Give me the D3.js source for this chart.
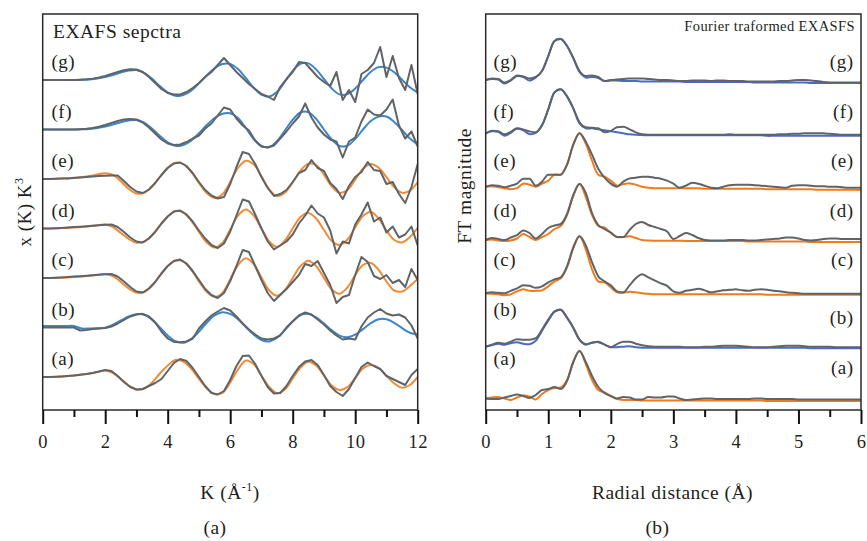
<!DOCTYPE html>
<html>
<head>
<meta charset="utf-8">
<script src="https://d3js.org/d3.v7.min.js"></script>
<style>
  body { margin: 0; background: #fff; }
  text { font-family: "Liberation Serif", "DejaVu Serif", serif; fill: #231f20; letter-spacing: 0.5px; }
</style>
</head>
<body>
<script>
"use strict";

// ---- grids (k in 1/Angstrom, r in Angstrom) ----
var kData = [0,0.2,0.4,0.6,0.8,1,1.2,1.4,1.6,1.8,2,2.2,2.4,2.6,2.8,3,3.2,3.4,3.6,3.8,4,4.2,4.4,4.6,4.8,5,5.2,5.4,5.6,5.8,6,
  6.2,6.4,6.6,6.8,7,7.2,7.4,7.6,7.8,8,8.2,8.4,8.6,8.8,9,9.2,9.4,9.6,9.8,10,10.2,10.4,10.6,10.8,11,11.2,11.4,11.6,11.8,12];
var kFit = [0,0.25,0.5,0.75,1,1.25,1.5,1.75,2,2.25,2.5,2.75,3,3.25,3.5,3.75,4,4.25,4.5,4.75,5,5.25,5.5,5.75,6,
  6.25,6.5,6.75,7,7.25,7.5,7.75,8,8.25,8.5,8.75,9,9.25,9.5,9.75,10,10.25,10.5,10.75,11,11.25,11.5,11.75,12];
var rGrid = [0,0.1,0.2,0.3,0.4,0.5,0.6,0.7,0.8,0.9,1,1.1,1.2,1.3,1.4,1.5,1.6,1.7,1.8,1.9,2,2.1,2.2,2.3,2.4,2.5,2.6,2.7,2.8,2.9,
  3,3.1,3.2,3.3,3.4,3.5,3.6,3.7,3.8,3.9,4,4.1,4.2,4.3,4.4,4.5,4.6,4.7,4.8,4.9,5,5.1,5.2,5.3,5.4,5.5,5.6,5.7,5.8,5.9,6];

var sampleLabels = ["(a)", "(b)", "(c)", "(d)", "(e)", "(f)", "(g)"];
var kTicks = [0, 2, 4, 6, 8, 10, 12];
var kMinor = [1, 3, 5, 7, 9, 11];
var rTicks = [0, 1, 2, 3, 4, 5, 6];
var rMinor = [0.5, 1.5, 2.5, 3.5, 4.5, 5.5];

// ---- EXAFS chi(k)k^3, measured (on kData) ----
var chiA = [0,0,0.3,0.6,1,1.5,2.2,3,4,5.5,7, 6,1,-5,-10,-12.5,-12,-9,-6,-2,6, 14,18,16,9,0,-9,-16,-17.5,-14,-3,
  11,21,21.5,13,1,-10,-16.5,-16,-9,1, 10,15.5,17,12,2,-9,-15,-19,-12,-1, 10,14.5,11,8,1,-2,-5,-8,2,8];
var chiB = [0,0,0,0,0,0,-3,-2.5,-1.5,-1,-0.5, 1,4,7.5,11,13,13.7,11,5,-4,-11, -14.5,-14.7,-14,-11,-1,6,12,16,19.5,17,
  11,4,-2,-7,-11,-12,-11,-8,0,6, 12,15,13,8,3,-3,-8,-12,-11,-12, 1,10,15,18.5,14,12,13,10,2,-11];
var chiC = [0,0,0.3,0.6,1,1.4,1.8,2.3,2.8,3.3,3.8, 4,1.5,-3.5,-9,-13.5,-14.5,-10.5,-4,4.5,12, 17,18.5,14.5,7,-2,-11,-17,-20,-15,-3,
  12,28,26,12,-2,-15,-23,-17,-11,-4, 3,14,12,17,5,-7,-25,-19,-17,3, 21,16,2,-1,3,-5,-2,-9,9,-2];
var chiD = [0,0,0.3,0.6,1,1.4,1.8,2.3,2.8,3.3,3.8, 4,1.5,-3.5,-9,-13,-14,-10,-3.5,5,12, 17,18,14,7,-2,-10,-16.5,-19.5,-15,-3,
  13,29,27,14,0,-13,-21,-17,-13,-6, 5,13,23,15,11,-2,-25,-13,-15,4, 14,26,7,11,-4,2,-9,-6,2,-17];
var chiE = [0,0,0.2,0.4,0.6,1,1.5,2,2.5,3,3.3, 3.6,3.5,-2,-8,-12.5,-14,-10.5,-4,4,11, 15.5,16.5,13,6,-3,-11,-16.5,-19.5,-18,-5,
  12,27,25,15,2,-9,-17,-15,-11,-3, 6,9,19,11,8,-4,-10,-20,-7,2, 7,17,9,8,-5,-3,-15,-24,-8,15];
var chiF = [0,0,0,0,0,0,0.3,0.7,1.5,2.8,4.5, 6.5,8.5,10,10.5,10,7,2,-4,-10,-14, -15.5,-15,-12.5,-9,-6,1,6,14,22,20,
  11,4,-1,-11,-17,-18,-16,-9,-2,6, 13,26,12,2,-5,-10,-12,-28,-12,-8, 8,20,15,14,20,30,4,-9,-2,-17];
var chiG = [0,0,0,0,0,0,0.3,0.7,1.3,2.5,4, 6,8,9.8,10.7,10.5,8,3,-3,-9,-13, -14.5,-14.5,-12,-8,-3,3,8,15,22,15,
  8,2,-4,-9,-14,-16.5,-20,-7,1,8, 18,17,10,3,-2,-6,8,-20,-10,-22, 6,10,17,33,3,24,2,-10,15,-14];

// ---- EXAFS fits (on kFit) ----
var chiAFit = [0,0,0.3,0.8,1.5,2.5,3.6,5,6.5,4,-2,-8.5,-12.5,-11.5,-5.5,3.5,11.5,17,15.5,8.5,-2,-11.5,-17,-16,-5.5,
  7.5,16.5,13,1.5,-10,-16.3,-12.5,-1.5,9.5,15.3,11.5,1.5,-8.5,-13,-10,-1,8.5,12,9,1.5,-6.5,-10.7,-8,0];
var chiBFit = [1.5,1.5,1.5,1.5,1.5,-1,-1,-0.8,-0.2,2.8,7,11,13.3,12.8,7.9,0.1,-8,-13.7,-15.2,-11.6,-4.1,4.8,12.1,15.3,13.6,
  8.2,0.5,-7.1,-12.5,-13.9,-10.2,-2.5,6.2,12.4,13.6,10.2,4,-2.9,-8.1,-9.7,-7.1,-1.6,4.4,8.2,8.2,4.7,-0.6,-5.2,-7];
var chiCFit = [0,0,0.2,0.5,0.9,1.5,2.3,3.2,4,2,-4,-10.5,-14.6,-14,-7.5,2.5,12,17.5,16.5,8.5,-3.5,-14,-19,-15,-1.5,
  13,19.7,14,0.5,-12.5,-17.7,-12,0,12,17.3,12,0,-11.5,-15.8,-9.5,3,13,15,8,-3.5,-12.5,-13.5,-8,-1];
var chiDFit = [0,0,0.2,0.5,0.9,1.5,2.3,3.3,4,1.5,-4.5,-10.5,-14.2,-13,-6.5,3,12,17.5,16,8,-3.5,-14,-19,-14.5,-1,
  13,19,13,0,-13,-18.5,-12,0,11.5,15.5,10,-1.5,-12.5,-16.5,-11,1,12.5,16.5,10,-2,-11.5,-14,-8.5,0.7];
var chiEFit = [0,0,0.3,0.7,1.2,2,3,4.5,5.8,4.2,-2.2,-9.8,-14.5,-13.9,-7.5,2.1,11.2,16.2,14.8,7.1,-4,-14,-18.9,-15.3,-2.9,
  11,18.3,14.7,2.7,-10.4,-16.9,-13.6,-3.4,8.3,15.4,14,4.4,-7.3,-13.8,-11,-0.7,10.3,15,11.2,1.8,-8.3,-13.8,-11.7,-3];
var chiFFit = [0,0,0,0,0,0.2,0.6,1.5,3,5,7.3,9,9.5,6.8,0.8,-6.5,-12.8,-16.2,-15.6,-11.2,-3.8,4.5,11.5,15.8,16.3,
  11.5,1.5,-9.5,-16.5,-17.5,-11.5,-1,9.8,17,17.4,10.6,0,-10,-16.5,-16.2,-9.5,0,8.5,13,13,7.5,-0.5,-9,-15];
var chiGFit = [0,0,0,0,0,0.2,0.6,1.5,3,5,7.5,9.4,10,7.1,1.2,-6.1,-12.3,-15.7,-15.1,-10.7,-3.4,4.8,11.8,16,16.1,
  10.9,2,-7.7,-14.7,-16.6,-11.8,-1.7,9.2,16.3,16.6,10.6,1,-8.5,-14.4,-14.1,-8.5,0,8.3,12.9,12.4,7.7,0.3,-7.3,-12.6];

// ---- Fourier transform magnitude, measured (on rGrid) ----
var ftA = [1.5,1,1,2.5,4,5.5,4,2,5,10, 11,13,11,19,38,49,38,24,13,7, 4,1.5,3,2.5,0.5,0.5,3,2.5,2.5,3.5,
  3.5,1.5,0,0.5,1,1.5,1.5,1,1,1, 1,1,1,1.5,1.5,1,1,1,1,1, 0.5,0.5,0.5,0.5,0.5,0.5,0.5,0.5,0.5,0.5, 0.5];
var ftB = [0,2,4,3,5,7.5,7,7,8.5,17, 27,35,37,29,19,7,2,4,5,2, -0.5,2.5,5,5,3,1.5,0.5,0,0,0,
  0,0,-0.5,-0.5,-0.5,0,0,0.5,1,1, 1,0.5,0,-0.5,-0.5,-0.5,0,0.5,1,1, 1,0.5,0,0,0,0,-0.5,-0.5,-0.5,-0.5, -0.5];
var ftC = [0,1,0.5,0,2.5,5,8,7.5,5.5,7, 11,14,16,27,46,57,48,31,17,12, 8,2,1,8,15,19,16,13,10,7.5,
  2,0.5,2.5,3.5,4.5,3,1,2,3,3.5, 4,3,2.5,3.5,4,3.5,2.5,2,1,0.5, 0,-0.5,-0.5,-0.5,-0.5,-0.5,-0.5,-0.5,-0.5,-0.5, -0.5];
var ftD = [0,2,1,0,2.5,5,9.5,7,1.5,6, 12,14.5,16,26,45,56,47,27,15,11, 7.5,3,3,10,16,18,15,13,11,8.5,
  1,4,7,5,2,0,-0.5,-0.5,-0.5,0, 0,0,-0.5,-0.5,0,0.5,1,1.5,2.5,2.5, 1.5,0,-0.5,0,1,1.5,1.5,1,1,1, 1];
var ftE = [0,1.5,1,-0.5,1,3,8,8,1,5, 12,12,12,22,42,53.5,45,32,18,9, 3,0,5,8.3,9,10,10,9,8,6,
  3,-1,1,4,3,1,-1,-1.5,0,1.5, 2,2,2,1.5,1,0.5,0,-0.5,-1,1, 1.5,1.5,1,0.5,0.5,0,0,-0.5,-1,-1, -1];
var ftF = [0,2.5,2,-1,1.5,5,4,2,1,8, 24,41,44,37,25,11,6,5.5,5,1, 2.5,6,6.5,4,1,-1,-1.5,-1.5,-1.5,-1.5,
  -1.5,-1.5,-1.5,-1.5,-1.5,-1.5,-1.5,-1.5,-1.5,-1, -1.5,-1.5,-1.5,-1.5,-1.5,-1.5,-1.5,-1,-1,-0.5, -0.5,0,0,0,0,-0.5,-1,-1.5,-1.5,-1.5, -1.5];
var ftG = [0,1.5,1,-2.5,0,4.5,3.5,1.5,3,9, 24,39,41,34,22,9,4,4.5,3,-1, 0,0.5,1,1.5,1.5,1.5,1,0.5,0,0,
  -0.5,-1,-1,-0.5,-0.5,-0.5,-1,-0.5,-0.5,-1, -1,-1,-1.5,-1.5,-1.5,-1.5,-1.5,-1,-1,-0.5, 0,0,-0.5,-1,-2,-2.5,-2.5,-2.5,-2.5,-2.5, -2.5];

// ---- Fourier transform fits (on rGrid) ----
var ftAFit = [1.5,2.5,3,1.5,0,2.5,4.5,3.5,0.5,6, 10,12,12.5,20,38,49,36,20,10,7.5, 4,1,0,0,0,-0.5,-0.5,-0.5,-0.5,-0.5,
  -0.5,-0.5,-0.5,-0.5,-0.5,-0.5,-0.5,-0.5,-0.5,-0.5, -0.5,-0.5,-0.5,-0.5,-0.5,-1,-1,-1,-1,-1, -1,-1,-1,-1,-1,-1,-1,-1,-1,-1, -1];
var ftBFit = [0,1.5,3,2,3.5,4.5,3,2.5,6,16, 26,35,37,29,19,7,2.5,4,4.5,2, -0.5,-0.5,0,0.5,-0.5,-1,-1,-1,-1,-1,
  -1,-1,-1,-1,-1,-1,-1,-1,-1,-1, -1,-1,-1,-1,-1,-1,-1,-1,-1,-1, -1,-1,-1.5,-1.5,-1.5,-1.5,-1.5,-1.5,-1.5,-1.5, -1.5];
var ftCFit = [0,-0.5,-1,-2,-1,2,4,2.5,2.5,3, 7,12,15,26,45,57,44,24,12,11, 6,1,0.5,1.5,1,0,-0.5,-1,-1,-1,
  -1,-1,-1,-1,-1,-1,-1,-1,-1,-1, -1,-1,-1,-1,-1,-1.5,-1.5,-1.5,-1.5,-1.5, -1.5,-1.5,-1.5,-1.5,-1.5,-1.5,-1.5,-1.5,-1.5,-1.5, -1.5];
var ftDFit = [0,0.5,-0.5,-1,-0.5,1.5,6,3,0,3, 6,11,14,25,44,56,43,25,14,12.5, 7,3,3,3.7,2,0,-0.5,-0.7,-0.7,-0.7,
  -0.7,-0.7,-1,-1,-1,-1,-1,-1,-1,-1, -1,-1,-1.5,-1.5,-1.5,-1.5,-1.5,-1.5,-1.5,-1.5, -1.5,-1.5,-2,-2,-2,-2,-2,-2,-2,-2, -2];
var ftEFit = [0,0.5,-0.5,-1.5,-2.5,-1.5,3,2,0,3, 6,12,12,22,42,53.5,43,26,12,10, 6,1,2.5,3.3,2,0,-1,-1.5,-1.5,-1.5,
  -1.5,-1.5,-1.5,-1.5,-1.5,-2,-2,-2,-2,-2, -2,-2,-2,-2,-2,-2.5,-2.5,-2.5,-2.5,-2.5, -2.5,-2.5,-2.5,-3,-3,-3,-3,-3,-3,-3, -3.3];
var ftFFit = [0,2,1.5,-2.3,0.5,4.5,3,-0.7,0.5,8, 24,41,44,37,25,10,5,5,4,3, 2,1,0,-1,-1.5,-1.7,-2,-2,-2,-2,
  -2,-2,-2,-2,-2,-2,-2,-2,-2,-2, -2,-2,-2,-2,-2,-2.5,-2.5,-2.5,-2.5,-2.5, -2.5,-2.5,-2.5,-2.5,-2.5,-2.5,-2.5,-2.5,-2.5,-2.5, -2.5];
var ftGFit = [0,1,0.5,-3.5,-0.5,4,3,-0.5,2.5,9, 24,39,41,34,22,8,2.5,3,2,-1, -0.5,-0.5,-1,-1,-1,-1.5,-1.5,-1.5,-1.5,-1.5,
  -1.5,-1.5,-2,-2,-2,-2,-2,-2,-2,-2, -2,-2,-2,-2.5,-2.5,-2.5,-2.5,-2.5,-2.5,-2.5, -2.5,-2.5,-3,-3,-3,-3,-3,-3,-3,-3, -3];

// colours
var grey = "#606468";
var orangeL = "#ef8c36", blueL = "#3c86c9";
var orangeR = "#f07b1f", blueR = "#4a6cc4";

var svg = d3.select("body").append("svg")
    .attr("width", 867)
    .attr("height", 541);

// Draws one stacked panel: fits first, measured curve on top.
function drawPanel(id, x, y, step, series, dataX, fitX, fitColors, dataCurve) {
  var r = x.range(), rv = y.range();
  svg.append("clipPath").attr("id", id)
    .append("rect")
      .attr("x", r[0]).attr("y", rv[1])
      .attr("width", r[1] - r[0]).attr("height", rv[0] - rv[1]);
  var g = svg.append("g").attr("clip-path", "url(#" + id + ")");

  series.forEach(function(s, i) {
    var off = i * step;
    var fitLine = d3.line()
        .x(function(d, j) { return x(fitX[j]); })
        .y(function(d) { return y(d + off); })
        .curve(d3.curveCatmullRom.alpha(0.5));
    var dataLine = d3.line()
        .x(function(d, j) { return x(dataX[j]); })
        .y(function(d) { return y(d + off); })
        .curve(dataCurve);
    g.append("path").datum(s.fit)
        .attr("fill", "none").attr("stroke", fitColors[s.fitType])
        .attr("stroke-width", 2).attr("d", fitLine);
    g.append("path").datum(s.data)
        .attr("fill", "none").attr("stroke", grey)
        .attr("stroke-width", 2).attr("stroke-linejoin", "round").attr("d", dataLine);
  });

  svg.append("rect")
      .attr("x", r[0]).attr("y", rv[1])
      .attr("width", r[1] - r[0]).attr("height", rv[0] - rv[1])
      .attr("fill", "none").attr("stroke", "#2a2a2a").attr("stroke-width", 1.5);
}

function drawAxis(x, major, minor) {
  var gMinor = svg.append("g").attr("transform", "translate(0,410)")
      .call(d3.axisBottom(x).tickValues(minor).tickSize(7).tickFormat(""));
  var gMajor = svg.append("g").attr("transform", "translate(0,410)")
      .call(d3.axisBottom(x).tickValues(major).tickSize(14).tickPadding(11).tickFormat(d3.format("d")));
  [gMinor, gMajor].forEach(function(g) {
    g.attr("font-family", null).attr("font-size", 18.5).attr("color", "#111");
    g.select(".domain").remove();
    g.selectAll(".tick line").attr("stroke-width", 2);
  });
}

// ---- left panel: EXAFS spectra ----
var xL = d3.scaleLinear().domain([0, 12]).range([42.7, 417.7]);
var yL = d3.scaleLinear().domain([-33, 363]).range([410, 14]);
var exafs = [
  {data: chiA, fit: chiAFit, fitType: "o"},
  {data: chiB, fit: chiBFit, fitType: "b"},
  {data: chiC, fit: chiCFit, fitType: "o"},
  {data: chiD, fit: chiDFit, fitType: "o"},
  {data: chiE, fit: chiEFit, fitType: "o"},
  {data: chiF, fit: chiFFit, fitType: "b"},
  {data: chiG, fit: chiGFit, fitType: "b"}
];
drawPanel("clipL", xL, yL, 49.5, exafs, kData, kFit, {o: orangeL, b: blueL}, d3.curveLinear);
drawAxis(xL, kTicks, kMinor);

// ---- right panel: Fourier transformed ----
var xR = d3.scaleLinear().domain([0, 6]).range([485.7, 861]);
var yR = d3.scaleLinear().domain([-10, 386]).range([410, 14]);
var ft = [
  {data: ftA, fit: ftAFit, fitType: "o"},
  {data: ftB, fit: ftBFit, fitType: "b"},
  {data: ftC, fit: ftCFit, fitType: "o"},
  {data: ftD, fit: ftDFit, fitType: "o"},
  {data: ftE, fit: ftEFit, fitType: "o"},
  {data: ftF, fit: ftFFit, fitType: "b"},
  {data: ftG, fit: ftGFit, fitType: "b"}
];
drawPanel("clipR", xR, yR, 53.33, ft, rGrid, rGrid, {o: orangeR, b: blueR}, d3.curveMonotoneX);
drawAxis(xR, rTicks, rMinor);

// sample labels
sampleLabels.forEach(function(lab, i) {
  var row = 6 - i;
  var yb = 68 + 49.5 * row;
  svg.append("text").attr("x", 51.5).attr("y", yb).attr("font-size", 19).text(lab);
  svg.append("text").attr("x", 493.5).attr("y", yb).attr("font-size", 19).text(lab);
  var yr = i < 2 ? yb + 8.5 : yb;
  svg.append("text").attr("x", 853.5).attr("y", yr).attr("text-anchor", "end")
      .attr("font-size", 19).text(lab);
});

// titles
svg.append("text").attr("x", 53).attr("y", 37.5).attr("font-size", 19.5).text("EXAFS sepctra");
svg.append("text").attr("x", 855).attr("y", 31).attr("text-anchor", "end")
    .attr("font-size", 14.5).style("letter-spacing", "0.4px").text("Fourier traformed EXASFS");

// axis titles
var kt = svg.append("text").attr("x", 230).attr("y", 499).attr("text-anchor", "middle").attr("font-size", 19.5);
kt.append("tspan").text("K (\u00C5");
kt.append("tspan").attr("dy", -8).attr("font-size", 12).text("-1");
kt.append("tspan").attr("dy", 8).text(")");
svg.append("text").attr("x", 215).attr("y", 534).attr("text-anchor", "middle").attr("font-size", 19.5).text("(a)");

svg.append("text").attr("x", 672.5).attr("y", 499).attr("text-anchor", "middle").attr("font-size", 19.5)
    .text("Radial distance (\u00C5)");
svg.append("text").attr("x", 657.5).attr("y", 534).attr("text-anchor", "middle").attr("font-size", 19.5).text("(b)");

var yt = svg.append("text").attr("transform", "translate(31,212) rotate(-90)")
    .attr("text-anchor", "middle").attr("font-size", 19);
yt.append("tspan").text("x (K) K");
yt.append("tspan").attr("dy", -8).attr("font-size", 12).text("3");

svg.append("text").attr("transform", "translate(471,186) rotate(-90)")
    .attr("text-anchor", "middle").attr("font-size", 19.5).text("FT magnitude");
</script>
</body>
</html>
